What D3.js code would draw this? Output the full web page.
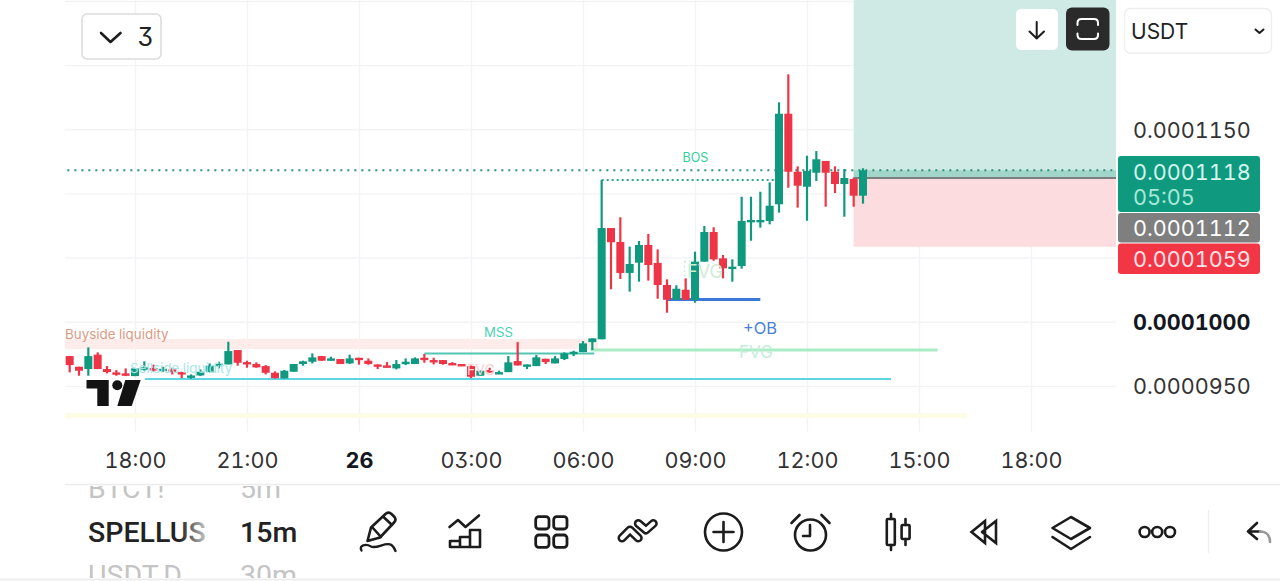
<!DOCTYPE html>
<html><head><meta charset="utf-8">
<script src="https://cdn.jsdelivr.net/npm/d3@7"></script>
<style>html,body{margin:0;padding:0;background:#fff;overflow:hidden}svg{display:block}text{font-family:Inter,sans-serif;font-feature-settings:"tnum","cv09"}</style>
</head><body><svg id="c" width="1280" height="581"></svg>
<script>
// prices are in units of 1e-7 USDT; candles are 15 minute bars beginning 25th 16:15
const opens=[973.2,964.9,963.1,974.3,963.1,960.5,959.7,957.6,963.6,963.9,962.8,962.8,960.7,957.6,958.1,961,966.5,966.7,977.9,968.5,967,965.4,960.2,955.8,961,967,968.8,973.2,970.9,970.9,967.5,971.9,969.6,966.7,965.9,963.6,968.3,967,971.9,970.1,970.1,967.8,967,965.4,957.9,962.3,959.7,960.7,969.3,965.9,965.4,971.1,967.5,970.9,976.1,976.3,984.1,986.3,1073,1062.1,1038,1046,1059.8,1045.8,1028.6,1017.1,1024.9,1017.1,1046.8,1069.9,1049.4,1042,1043.4,1077.5,1078,1078.5,1091.5,1162.1,1116.9,1105.2,1116.1,1125.3,1116.9,1107.3,1111.2,1098.2];
const highs=[973.2,964.9,980,976.1,965.4,962.3,963.6,963.6,969.1,966.5,964.9,964.1,961,958.9,962.8,967.5,968.8,984.4,977.9,969.6,968.3,966.2,961.3,962.3,967,969.6,975.3,973.2,972.7,970.9,974.3,971.9,971.4,966.7,968.5,970.1,971.4,972.2,974.8,971.9,970.1,968.5,967,965.9,961.8,964.1,961.8,973.2,984.1,966.7,974,971.1,973.2,976.1,977.4,984.9,987,1110.4,1073,1081.4,1058.5,1062.9,1068.4,1056.4,1033,1028.4,1033.8,1054.6,1074.6,1073.6,1052,1048.6,1097.4,1097.4,1101.3,1108.6,1171,1192.8,1121.1,1129.4,1133,1125.3,1121.1,1119,1112.2,1119.6];
const lows=[960.5,957.9,957.9,963.1,959.7,957.9,957.6,957.6,961.8,961,961,958.9,956,955.5,957.6,960.5,963.6,966.7,965.7,964.1,964.1,958.9,955.8,955.8,961,965.7,967.5,969.6,969.6,967,967,966.5,966.5,963.1,964.4,962.8,966.2,967,968,966.7,966.5,966.2,965.9,956,957.9,960.2,959.7,960.7,965.9,963.1,965.4,967,967.5,970.1,973.2,976.3,977.9,986.3,1025.3,1033.3,1023.4,1031.2,1032,1017.9,1007,1017.1,1017.1,1014.8,1046.8,1047.5,1033.8,1031.2,1041.3,1063.1,1073.3,1075.9,1085,1104.4,1088.9,1078.7,1109.7,1089.6,1100.3,1081.8,1089.6,1092];
const closes=[966.2,961.8,973.2,963.1,960.7,960,959.2,963.6,964.4,962,963.3,961,958.9,958.1,961,965.7,967.2,977.1,968,968,964.4,960.2,956,961.8,967,969.1,972.2,969.6,971.4,967,971.4,971.4,967,965.9,965.4,967,968.8,971.4,971.4,969.6,967,967.2,965.9,957.1,961.8,961.3,960.7,968.3,965.9,966.7,972.2,968.5,971.4,975.3,976.6,983.1,987,1073,1061.9,1038,1045,1059.8,1044.2,1028.6,1017.1,1025.7,1017.1,1046.8,1069.9,1048.6,1041.6,1042.9,1078.5,1079.3,1079.3,1090.4,1162.1,1116.9,1106,1117.5,1126.6,1116.1,1107.3,1112,1098.2,1118];

const priceTicks=[950,1000,1050,1100,1150,1200,1250];
const priceLabels=[950,1000,1150];
const boldPrice=1000;
const timeTicksHours=[-6,-3,0,3,6,9,12,15,18];
const timeTickLabels=["18:00","21:00","26","03:00","06:00","09:00","12:00","15:00","18:00"];

// drawn levels: [startHour, endHour, price]
const sellsideLine=[-5.73,14.25,955.3];
const mssLine=[1.75,6.3,975.2];
const fvgLine=[6.2,15.5,977.9];
const obLine=[8.25,10.75,1017.3];
const bosLine=[6.5,11.15,1110.4];
const buysideBand=[-8,6.4,986.5,978.7];
const lowerBand=[-8,16.29,928.9,925];
const positionBox=[13.25,20.28,1252,1112,1058.4];
const lastPrice=1118, entryPrice=1112, stopPrice=1059, countdown="05:05";
const symbols=["BTCT!","SPELLUS","USDT.D"];
const intervals=["5m","15m","30m"];

const GREEN="#0f9a80",RED="#ee3447";
const t0=Date.UTC(2024,0,26);
const hr=h=>new Date(t0+h*3600e3);
const x=d3.scaleUtc().domain([hr(-6),hr(18)]).range([135,1031]);
const y=d3.scaleLinear().domain([950,1150]).range([385.85,129.25]);
const bars=opens.map((o,i)=>({t:hr(-7.75+i*0.25),o,h:highs[i],l:lows[i],c:closes[i]}));

const svg=d3.select("#c");
const defs=svg.append("defs");
defs.append("clipPath").attr("id","plot").append("rect").attr("x",65).attr("y",0).attr("width",1051).attr("height",432);
defs.append("clipPath").attr("id","list").append("rect").attr("x",60).attr("y",486).attr("width",280).attr("height",92);
const g1=defs.append("linearGradient").attr("id","fade").attr("x1",0).attr("x2",1).attr("y1",0).attr("y2",0);
g1.append("stop").attr("offset",0.78).attr("stop-color","#222");
g1.append("stop").attr("offset",1).attr("stop-color","#c4c4c4");

// grid through axes
const gridY=svg.append("g").attr("transform","translate(65,0)")
 .call(d3.axisRight(y).tickValues(priceTicks).tickSize(1051).tickFormat(""));
gridY.select(".domain").remove();
gridY.selectAll("line").attr("stroke","#f2f3f4").attr("stroke-width",1.4);
const gridX=svg.append("g")
 .call(d3.axisBottom(x).tickValues(timeTicksHours.map(hr)).tickSize(432).tickFormat(""));
gridX.select(".domain").remove();
gridX.selectAll("line").attr("stroke","#f2f3f4").attr("stroke-width",1.4);

const plot=svg.append("g").attr("clip-path","url(#plot)");
const band=(a,fill)=>plot.append("rect").attr("x",x(hr(a[0]))).attr("width",x(hr(a[1]))-x(hr(a[0])))
 .attr("y",y(a[2])).attr("height",y(a[3])-y(a[2])).attr("fill",fill);
const hline=(a,stroke,w,dash)=>plot.append("line").attr("x1",x(hr(a[0]))).attr("x2",x(hr(a[1])))
 .attr("y1",y(a[2])).attr("y2",y(a[2])).attr("stroke",stroke).attr("stroke-width",w).attr("stroke-dasharray",dash||null);

// position tool
const [pa,pb,pt,pe,ps]=positionBox;
const px=x(hr(pa)),pw=x(hr(pb))-x(hr(pa));
plot.append("rect").attr("x",px).attr("width",pw).attr("y",y(pt)).attr("height",y(pe)-y(pt)).attr("fill","#cfeae4");
plot.append("rect").attr("x",px).attr("width",pw).attr("y",y(pe)).attr("height",y(ps)-y(pe)).attr("fill","#fcdcde");
plot.append("rect").attr("x",px).attr("width",pw).attr("y",y(lastPrice)).attr("height",y(pe)-y(lastPrice)).attr("fill","#a3d6cb");

band(buysideBand,"#fdecea");
band(lowerBand,"#fdfde6");
plot.append("line").attr("x1",px).attr("x2",px+pw).attr("y1",y(pe)).attr("y2",y(pe)).attr("stroke","#7d7d7d").attr("stroke-width",2);

const label=(t,xx,yy,fill,size,anchor,weight,font)=>{const s=svg.append("text").text(t).attr("x",xx).attr("y",yy).attr("fill",fill)
 .attr("font-size",size).attr("text-anchor",anchor||"start").attr("dominant-baseline","central");
 if(weight)s.attr("font-weight",weight); if(font)s.style("font-family",font); return s;};

label("Buyside liquidity",65,333.5,"#dc9a83",13.4);
label("Sellside liquidity",130,368,"#a6e6ea",13.4);
label("FVG",481,369,"#f6d3d3",14,"middle");

// TradingView logo
const logo=svg.append("g").attr("fill","#131313");
logo.append("path").attr("d","M86.5 380H108.7V406H97.3V388.5H86.5Z");
logo.append("circle").attr("cx",117.3).attr("cy",385.2).attr("r",5);
logo.append("path").attr("d","M125.3 380H140.7L131.7 406H117.3Z");

hline(fvgLine,"#a9ecc6",3);
hline(sellsideLine,"#5ed5e2",2);
hline(mssLine,"#52c6b2",2);
hline([-8,20.28,lastPrice],"#2f8f7f",2,"2 5");
hline(bosLine,"#2fa58c",2,"2 3");
hline(obLine,"#3c79d6",3);

// FVG dotted box
plot.append("path").attr("d",`M${x(hr(8.72))} ${y(1047)}V${y(1022)}M${x(hr(8.72))} ${y(1047)}H${x(hr(9.2))}`)
 .attr("fill","none").attr("stroke","#cfe9d3").attr("stroke-width",1.5).attr("stroke-dasharray","1.5 3");
label("FVG",705,271,"#cdecd5",18,"middle");

// candles
plot.append("g").selectAll("line").data(bars).join("line")
 .attr("x1",d=>x(d.t)).attr("x2",d=>x(d.t)).attr("y1",d=>y(d.h)).attr("y2",d=>y(d.l))
 .attr("stroke",d=>d.c>=d.o?GREEN:RED).attr("stroke-width",2.2);
plot.append("g").selectAll("rect").data(bars).join("rect")
 .attr("x",d=>x(d.t)-4).attr("width",8)
 .attr("y",d=>y(Math.max(d.o,d.c))).attr("height",d=>Math.max(2.4,Math.abs(y(d.o)-y(d.c))))
 .attr("fill",d=>d.c>=d.o?GREEN:RED);

label("MSS",498.5,332,"#4fd2b5",13.2,"middle");
label("BOS",695.5,157,"#33d09c",12.5,"middle");
label("+OB",760,328,"#4a82d2",16.5,"middle");
label("FVG",756,351.5,"#c4eedb",17,"middle");

// price axis
const axY=svg.append("g").attr("transform","translate(1133,0)")
 .call(d3.axisRight(y).tickValues(priceLabels).tickSize(0).tickPadding(0)
 .tickFormat(d=>(d*1e-7).toFixed(7)));
axY.select(".domain").remove();
axY.selectAll("text").attr("font-size",21.6).attr("fill",d=>d===boldPrice?"#131722":"#333")
 .attr("font-weight",d=>d===boldPrice?700:400).attr("dy",0).attr("dominant-baseline","central");

// time axis
const axX=svg.append("g").attr("transform","translate(0,460)")
 .call(d3.axisBottom(x).tickValues(timeTicksHours.map(hr)).tickSize(0).tickPadding(0)
 .tickFormat((d,i)=>timeTickLabels[i]));
axX.select(".domain").remove();
axX.selectAll("text").attr("font-size",21.6).attr("fill",(d,i)=>timeTickLabels[i]==="26"?"#131722":"#333")
 .attr("font-weight",(d,i)=>timeTickLabels[i]==="26"?700:400).attr("dy",0).attr("dominant-baseline","central");

svg.append("line").attr("x1",65).attr("x2",1280).attr("y1",484.5).attr("y2",484.5).attr("stroke","#ececec").attr("stroke-width",1.5);
svg.append("line").attr("x1",0).attr("x2",1280).attr("y1",579.5).attr("y2",579.5).attr("stroke","#eeeeee").attr("stroke-width",2);

// price tags
const R=(xx,yy,w,h,rx,fill,stroke,sw)=>svg.append("rect").attr("x",xx).attr("y",yy).attr("width",w).attr("height",h).attr("rx",rx).attr("fill",fill).attr("stroke",stroke||"none").attr("stroke-width",sw||0);
R(1118,156,142,56,3,GREEN);R(1118,213,142,29.5,3,"#7f7f7f");R(1118,243.5,142,30.5,3,"#f23645");
const fmt=v=>(v*1e-7).toFixed(7);
label(fmt(lastPrice),1133,171.5,"#d3f5ec",21.6);
label(countdown,1133,197,"#a9e8d8",21.6);
label(fmt(entryPrice),1133,227.5,"#fff",21.6);
label(fmt(stopPrice),1133,258.5,"#fde3e5",21.6);

// controls
const S={fill:"none",stroke:"#1c1c1c","stroke-width":2.6,"stroke-linecap":"round","stroke-linejoin":"round"};
const P=(d,o)=>{const p=svg.append("path").attr("d",d);Object.entries({...S,...(o||{})}).forEach(([k,v])=>p.attr(k,v));return p;};
R(82,14,79,45,5,"#fff","#dcdcdc",1.6);
P("M101 33L110.5 42L120.5 33");
label("3",145.5,36.5,"#222",25,"middle");
R(1016,9,42,41,5,"#fff");
P("M1036.7 22V38.5M1029.5 31.5L1036.7 38.5L1044 31.5",{"stroke-width":2});
R(1066,7.5,43.5,43,6,"#2a2a2a");
P("M1077.5 25V23Q1077.5 19 1081.5 19H1094Q1098 19 1098 23V25M1077.5 33.5V35Q1077.5 39 1081.5 39H1094Q1098 39 1098 35V33.5",{stroke:"#fff","stroke-width":2});
R(1124.5,8.5,147,44.5,6,"#fff","#eeeeee",1.4);
label("USDT",1131,31,"#222",21);
P("M1255.5 29.5L1259.5 33L1263.5 29.5",{"stroke-width":2});

// symbol list
const list=svg.append("g").attr("clip-path","url(#list)");
const listText=(t,xx,yy,fill,size,weight)=>list.append("text").text(t).attr("x",xx).attr("y",yy).attr("fill",fill).attr("font-size",size).attr("font-weight",weight).attr("dominant-baseline","central").style("font-family","Roboto");
listText(symbols[0],88,488,"#c4c4c4",28.5,400);
listText(intervals[0],240,488,"#c4c4c4",28.5,400);
listText(symbols[1],88,532,"url(#fade)",28.5,500);
listText(intervals[1],240,532,"#222",28.5,500);
listText(symbols[2],88,575,"#c4c4c4",28.5,400);
listText(intervals[2],240,575,"#c4c4c4",28.5,400);

// toolbar icons
P("M367.5 541L371 527.5L386 513.5Q389 511.5 391.5 514L394.5 517Q396.5 519.5 394.5 522L380 537.5ZM372 527L381 537M383 516.5L392 525");
P("M361.5 550.5C358.5 545 366 543.5 371 546.5C377 549.5 386 541 391.5 545C393.5 546.5 394.5 548.5 395.5 551",{"stroke-width":2.4});
P("M449.5 527L458 520L465.5 527L479 515.5");
P("M450 547V541H460V537H470V530H480V547ZM460 541V547M470 537V547");
[[535.7,516.7],[553.7,516.7],[535.7,535],[553.7,535]].forEach(c=>R(c[0],c[1],13.3,12.3,3,"none","#1c1c1c",2.8));
const chev=d=>{P(d,{"stroke-width":9});P(d,{stroke:"#fff","stroke-width":4});};
chev("M622 538L630 530L638.3 538");
chev("M638.3 523.5L646 530L653.3 523.5");
svg.append("circle").attr("cx",723.5).attr("cy",532).attr("r",18.5).attr("fill","none").attr("stroke","#1c1c1c").attr("stroke-width",2.6);
P("M723.5 522V542M713.5 532H733.5");
svg.append("circle").attr("cx",810.5).attr("cy",535).attr("r",15.5).attr("fill","none").attr("stroke","#1c1c1c").attr("stroke-width",2.6);
P("M810 525V536H803M791.5 523L799.5 515M821.5 515L829.5 523");
P("M891 514V519M891 545V550M905.5 519V525M905.5 539V545");
R(886.8,519,8,26,1,"none","#1c1c1c",2.6);R(901.6,525,8,14,1,"none","#1c1c1c",2.6);
P("M971.5 532L985 521V543ZM982 532L996 521V543L982 532",{"stroke-linejoin":"miter"});
P("M1052.5 528L1071 517L1090 528L1071 539ZM1052.5 537L1071 549L1090 537");
[1144.6,1157.2,1170].forEach(c=>svg.append("circle").attr("cx",c).attr("cy",532).attr("r",5).attr("fill","none").attr("stroke","#1c1c1c").attr("stroke-width",2.6));
svg.append("line").attr("x1",1208.5).attr("x2",1208.5).attr("y1",510).attr("y2",553).attr("stroke","#efefef").attr("stroke-width",1.4);
P("M1257 523L1248 531.5L1257 539M1248 531.5H1260");
P("M1260 531.5C1266 531.5 1270 535 1270 542",{stroke:"#999"});
</script></body></html>
